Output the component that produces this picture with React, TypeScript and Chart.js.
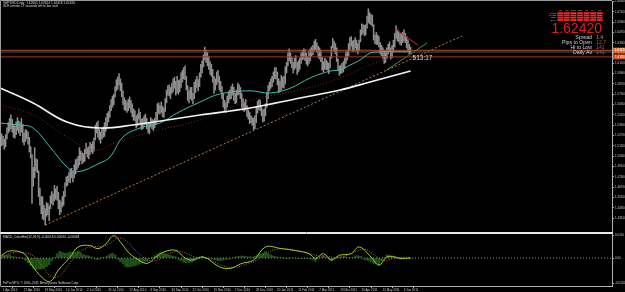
import React, { useEffect, useRef } from 'react';
import { Chart, registerables } from 'chart.js';

Chart.register(...registerables);

const FONT = '"Liberation Sans", Arial, sans-serif';

// ---------------- data ----------------
const dateLabels = [
  '1 Apr 2010', '27 Apr 2010', '19 May 2010', '10 Jun 2010', '2 Jul 2010', '26 Jul 2010',
  '17 Aug 2010', '8 Sep 2010', '30 Sep 2010', '22 Oct 2010', '15 Nov 2010', '7 Dec 2010',
  '29 Dec 2010', '20 Jan 2011', '11 Feb 2011', '7 Mar 2011', '29 Mar 2011', '20 Apr 2011',
  '12 May 2011', '3 Jun 2011',
];
const BARS_PER_LABEL = 16;

const priceLow = [
  1.5150,1.5160,1.5110,1.5140,1.5230,1.5300,1.5320,1.5350,1.5310,1.5250,1.5240,1.5280,1.5330,1.5300,1.5270,1.5310,
  1.5190,1.5160,1.5200,1.5230,1.5170,1.5080,1.5010,1.4480,1.4680,1.4780,1.4860,1.4840,1.4560,1.4460,1.4360,1.4300,
  1.4290,1.4230,1.4330,1.4350,1.4280,1.4420,1.4480,1.4460,1.4510,1.4530,1.4520,1.4420,1.4350,1.4380,1.4440,1.4460,
  1.4560,1.4680,1.4690,1.4730,1.4720,1.4780,1.4730,1.4780,1.4820,1.4870,1.4900,1.4930,1.4980,1.4940,1.4960,1.4970,
  1.5060,1.5020,1.5000,1.5050,1.5080,1.5060,1.5090,1.5220,1.5300,1.5250,1.5220,1.5180,1.5230,1.5250,1.5260,1.5320,
  1.5380,1.5430,1.5480,1.5560,1.5600,1.5630,1.5720,1.5790,1.5810,1.5860,1.5790,1.5720,1.5630,1.5570,1.5560,1.5540,
  1.5560,1.5590,1.5540,1.5490,1.5450,1.5440,1.5360,1.5380,1.5460,1.5390,1.5340,1.5350,1.5390,1.5400,1.5350,1.5300,
  1.5290,1.5370,1.5350,1.5330,1.5360,1.5400,1.5450,1.5530,1.5520,1.5540,1.5490,1.5480,1.5550,1.5650,1.5740,1.5730,
  1.5700,1.5760,1.5780,1.5820,1.5740,1.5770,1.5750,1.5780,1.5830,1.5890,1.5930,1.5920,1.5800,1.5680,1.5650,1.5700,
  1.5680,1.5640,1.5700,1.5770,1.5830,1.5790,1.5840,1.5950,1.6000,1.6070,1.6150,1.6120,1.6080,1.6040,1.5980,1.5960,
  1.5890,1.5760,1.5800,1.5860,1.5890,1.5800,1.5780,1.5700,1.5600,1.5560,1.5540,1.5600,1.5650,1.5690,1.5700,1.5740,
  1.5680,1.5640,1.5650,1.5740,1.5750,1.5700,1.5600,1.5560,1.5550,1.5570,1.5490,1.5460,1.5410,1.5420,1.5390,1.5340,
  1.5350,1.5420,1.5530,1.5570,1.5560,1.5500,1.5430,1.5440,1.5500,1.5600,1.5700,1.5790,1.5820,1.5840,1.5890,1.5930,
  1.5930,1.5860,1.5770,1.5780,1.5800,1.5830,1.5820,1.5870,1.6000,1.6080,1.6140,1.6110,1.6060,1.6000,1.6040,1.6060,
  1.5980,1.6010,1.6040,1.6110,1.6150,1.6160,1.6140,1.6100,1.6080,1.6110,1.6140,1.6190,1.6210,1.6250,1.6270,1.6240,
  1.6180,1.6160,1.6130,1.6030,1.6010,1.6040,1.6040,1.6030,1.5990,1.6060,1.6170,1.6290,1.6250,1.6220,1.6130,1.6030,
  1.5970,1.5990,1.6000,1.6010,1.6050,1.6110,1.6150,1.6200,1.6270,1.6310,1.6250,1.6250,1.6290,1.6250,1.6220,1.6260,
  1.6360,1.6440,1.6460,1.6430,1.6440,1.6520,1.6580,1.6570,1.6560,1.6540,1.6380,1.6340,1.6330,1.6330,1.6300,1.6220,
  1.6200,1.6170,1.6110,1.6120,1.6170,1.6220,1.6250,1.6160,1.6180,1.6240,1.6300,1.6400,1.6370,1.6360,1.6330,1.6320,
  1.6350,1.6370,1.6350,1.6290,1.6260,1.6220,1.6230,
];
const priceHigh = [
  1.5290,1.5260,1.5230,1.5280,1.5360,1.5420,1.5470,1.5510,1.5460,1.5400,1.5380,1.5430,1.5480,1.5440,1.5420,1.5470,
  1.5400,1.5300,1.5340,1.5330,1.5310,1.5250,1.5140,1.5050,1.4900,1.5130,1.5000,1.4990,1.4860,1.4660,1.4560,1.4560,
  1.4460,1.4420,1.4490,1.4480,1.4450,1.4570,1.4620,1.4590,1.4690,1.4650,1.4680,1.4610,1.4520,1.4500,1.4560,1.4620,
  1.4720,1.4790,1.4800,1.4840,1.4880,1.4890,1.4850,1.4930,1.4990,1.5000,1.5030,1.5130,1.5090,1.5070,1.5060,1.5110,
  1.5180,1.5130,1.5140,1.5190,1.5170,1.5200,1.5240,1.5390,1.5420,1.5440,1.5340,1.5310,1.5350,1.5370,1.5420,1.5480,
  1.5530,1.5550,1.5620,1.5690,1.5730,1.5750,1.5840,1.5920,1.5950,1.5990,1.5930,1.5880,1.5790,1.5710,1.5680,1.5660,
  1.5690,1.5720,1.5680,1.5640,1.5580,1.5560,1.5500,1.5520,1.5580,1.5540,1.5460,1.5470,1.5500,1.5520,1.5470,1.5420,
  1.5420,1.5480,1.5460,1.5450,1.5470,1.5540,1.5640,1.5650,1.5620,1.5660,1.5610,1.5590,1.5700,1.5800,1.5850,1.5860,
  1.5830,1.5880,1.5930,1.5950,1.5900,1.5960,1.5910,1.5920,1.6000,1.6030,1.6060,1.6080,1.5960,1.5850,1.5790,1.5830,
  1.5830,1.5760,1.5890,1.5920,1.5960,1.5920,1.6000,1.6100,1.6140,1.6210,1.6300,1.6260,1.6240,1.6190,1.6130,1.6100,
  1.6040,1.5960,1.5930,1.6010,1.6030,1.5960,1.5900,1.5840,1.5760,1.5680,1.5650,1.5730,1.5780,1.5800,1.5840,1.5870,
  1.5830,1.5760,1.5800,1.5880,1.5860,1.5830,1.5760,1.5700,1.5660,1.5690,1.5620,1.5570,1.5540,1.5500,1.5480,1.5470,
  1.5500,1.5600,1.5670,1.5690,1.5680,1.5620,1.5570,1.5580,1.5640,1.5770,1.5850,1.5890,1.5930,1.5960,1.6010,1.6060,
  1.6060,1.6010,1.5930,1.5900,1.5970,1.5950,1.5960,1.6070,1.6120,1.6230,1.6280,1.6230,1.6180,1.6120,1.6170,1.6200,
  1.6120,1.6140,1.6170,1.6230,1.6260,1.6280,1.6270,1.6230,1.6190,1.6250,1.6280,1.6300,1.6320,1.6370,1.6390,1.6350,
  1.6310,1.6290,1.6260,1.6180,1.6130,1.6170,1.6150,1.6130,1.6110,1.6190,1.6310,1.6400,1.6370,1.6340,1.6290,1.6160,
  1.6080,1.6090,1.6110,1.6130,1.6170,1.6240,1.6260,1.6340,1.6410,1.6420,1.6370,1.6380,1.6410,1.6380,1.6340,1.6380,
  1.6500,1.6570,1.6560,1.6550,1.6560,1.6660,1.6745,1.6700,1.6680,1.6670,1.6560,1.6440,1.6470,1.6440,1.6420,1.6350,
  1.6320,1.6290,1.6260,1.6250,1.6290,1.6330,1.6360,1.6290,1.6320,1.6380,1.6460,1.6550,1.6500,1.6480,1.6450,1.6460,
  1.6470,1.6500,1.6460,1.6420,1.6380,1.6330,1.6300,
];

// moving averages (bar position, price)
const sma50Bar = [-1.3, 13.9, 23.8, 36.7, 49.5, 57.1, 74.6, 82.1, 92, 104.9, 120, 133, 150.4, 165.5, 188.3, 203.4, 218.6, 233.8, 249, 256.5, 264.1, 271.7, 279.3, 284.6, 294.4, 310];
const sma50 = [1.5416, 1.5393, 1.5358, 1.5137, 1.4905, 1.4847, 1.4951, 1.5021, 1.5253, 1.5358, 1.5416, 1.5532, 1.5660, 1.5754, 1.5790, 1.5765, 1.5820, 1.5940, 1.6020, 1.6033, 1.6090, 1.6149, 1.6230, 1.6242, 1.6245, 1.6245];
const sma100Bar = [-1.3, 23.8, 49.5, 69.3, 87.4, 112.5, 150.4, 188.3, 226.2, 256.5, 289.1, 310];
const sma100 = [1.5626, 1.5510, 1.5254, 1.5102, 1.5195, 1.5311, 1.5451, 1.5680, 1.5800, 1.5940, 1.6149, 1.6200];
const sma200Bar = [-1.3, 23.8, 49.5, 74.6, 99.6, 125.4, 150.4, 188.3, 226.2, 256.5, 279.3, 310];
const sma200 = [1.5824, 1.5649, 1.5428, 1.5358, 1.5393, 1.5451, 1.5509, 1.5591, 1.5707, 1.5800, 1.5893, 1.6021];

// trend lines
const supportBar = [33, 349];
const supportPrice = [1.4230, 1.6428];
const greenBar = [292, 322.5];
const greenPrice = [1.6033, 1.6347];
const resistBar = [298, 315.6];
const resistPrice = [1.6510, 1.6323];

const currentPrice = 1.6242;
const upperLevel = 1.6262;
const lowerLevel = 1.6185;
const lastBar = 310;

const priceTicks = [1.6830, 1.6710, 1.6590, 1.6470, 1.6350, 1.6230, 1.6110, 1.5990, 1.5870, 1.5750, 1.5630, 1.5510, 1.5390, 1.5270, 1.5150, 1.5030, 1.4910, 1.4790, 1.4670, 1.4550, 1.4430, 1.4310];

// oscillator
const macdBar = [0, 6, 17, 22, 31, 37, 43, 52, 58, 67, 73, 79, 85, 91, 97, 102, 110, 117, 123, 132, 138, 144, 153, 165, 173, 182, 191, 200, 212, 221, 233, 238, 244, 250, 256, 265, 271, 280, 286, 292, 298, 302, 310];
const macdMain = [0.0013, 0.0034, 0.0021, -0.0026, -0.0096, -0.0112, -0.0058, 0.0005, 0.0053, 0.0060, 0.0045, 0.0068, 0.0107, 0.0068, 0.0021, -0.0002, -0.0026, 0.0005, 0.0029, 0.0037, 0.0005, -0.0010, 0.0005, -0.0042, -0.0050, -0.0026, -0.0010, 0.0053, 0.0045, 0.0037, 0.0021, -0.0002, 0.0021, -0.0010, 0.0013, 0.0021, 0.0053, 0.0005, -0.0034, 0.0005, 0.0005, -0.0002, 0.0000];
const signalBar = [0, 8, 18, 25, 32, 38, 44, 50, 56, 63, 70, 76, 82, 88, 94, 100, 106, 113, 120, 127, 134, 141, 148, 155, 162, 170, 177, 185, 193, 201, 208, 216, 224, 232, 240, 247, 253, 260, 268, 275, 282, 289, 295, 302, 310];
const signalVal = [0.0000, 0.0025, 0.0025, 0.0005, -0.0050, -0.0090, -0.0085, -0.0040, 0.0010, 0.0045, 0.0055, 0.0055, 0.0070, 0.0095, 0.0085, 0.0045, 0.0010, -0.0015, -0.0005, 0.0020, 0.0033, 0.0020, 0.0002, 0.0000, -0.0020, -0.0042, -0.0045, -0.0030, -0.0012, 0.0025, 0.0042, 0.0044, 0.0036, 0.0024, 0.0010, 0.0008, 0.0002, 0.0010, 0.0030, 0.0042, 0.0018, -0.0012, -0.0006, 0.0003, 0.0003];
const HIST_STEP = 2;
const histVals = [
  0.0013, 0.0013, 0.0014, 0.0015, 0.0007, 0.0005, 0.0003, 0.0001,
  -0.0002, -0.0012, -0.0023, -0.0037, -0.0050, -0.0054, -0.0054, -0.0054,
  -0.0049, -0.0041, -0.0032, -0.0013, 0.0003, 0.0020, 0.0032, 0.0027,
  0.0023, 0.0024, 0.0028, 0.0028, 0.0027, 0.0033, 0.0025, 0.0016,
  0.0012, 0.0010, 0.0005, -0.0003, -0.0008, -0.0006, 0.0002, 0.0002,
  0.0010, 0.0018, 0.0023, 0.0014, -0.0007, -0.0018, -0.0028, -0.0041,
  -0.0043, -0.0041, -0.0038, -0.0035, -0.0030, -0.0024, -0.0020, -0.0016,
  -0.0004, 0.0004, 0.0010, 0.0019, 0.0026, 0.0025, 0.0021, 0.0016,
  0.0013, 0.0009, 0.0006, -0.0006, -0.0013, -0.0020, -0.0022, -0.0021,
  -0.0021, -0.0013, -0.0005, -0.0001, 0.0004, 0.0001, -0.0001, -0.0003,
  -0.0004, -0.0008, -0.0013, -0.0012, -0.0010, -0.0006, -0.0006, -0.0003,
  0.0003, 0.0006, 0.0008, 0.0010, 0.0008, 0.0006, 0.0006, 0.0005,
  0.0009, 0.0014, 0.0019, 0.0024, 0.0031, 0.0022, 0.0015, 0.0009,
  0.0006, 0.0003, 0.0002, -0.0001, -0.0003, -0.0001, 0.0000, 0.0000,
  -0.0003, -0.0002, -0.0002, -0.0002, -0.0002, -0.0005, -0.0010, -0.0016,
  -0.0004, 0.0004, 0.0012, 0.0002, -0.0006, -0.0013, -0.0004, 0.0000,
  0.0005, 0.0002, 0.0007, 0.0003, 0.0000, 0.0003, 0.0009, 0.0011,
  0.0008, -0.0005, -0.0009, -0.0012, -0.0017, -0.0026, -0.0029, -0.0032,
  -0.0012, 0.0003, 0.0015, 0.0012, 0.0010, 0.0007, 0.0001, -0.0005,
  -0.0004, -0.0003, -0.0002, -0.0002,
];
const oscTicks = [0.0110, 0, -0.0120];

// ---------------- layout constants ----------------
const W = 625;
const MAIN_H = 234;
const OSC_TOP = 233;
const OSC_H = 59;
const AXIS_W = 13;
const X_MIN = -0.5;
const X_MAX = 462.7;
const Y_MAX = 1.68351;
const Y_MIN = 1.41486;
const OSC_MAX = 0.01152;
const OSC_MIN = -0.01344;

const pts = (xs: number[], ys: number[]) => xs.map((x, i) => ({ x, y: ys[i] }));

const fixY = (s: any) => { s.width = AXIS_W; s.paddingTop = 0; s.paddingBottom = 0; };
const fixX = (s: any) => { s.height = 6; s.paddingLeft = 0; s.paddingRight = 0; };

const lineDs = (data: any[], color: string, width: number, extra: any = {}) => ({
  type: 'line',
  data,
  borderColor: color,
  borderWidth: width,
  pointRadius: 0,
  fill: false,
  tension: 0,
  order: 1,
  ...extra,
});

const mainDecor = {
  id: 'mainDecor',
  beforeDraw(chart: any) {
    const c = chart.ctx;
    c.save();
    c.fillStyle = '#000';
    c.fillRect(0, 0, chart.width, chart.height);
    c.restore();
  },
  afterDraw(chart: any) {
    const c = chart.ctx;
    const a = chart.chartArea;
    const xs = chart.scales.x;
    const ys = chart.scales.y;
    c.save();
    c.lineWidth = 1;
    c.strokeStyle = '#9a9a9a';
    c.beginPath();
    c.moveTo(0.5, a.bottom);
    c.lineTo(0.5, 0.5);
    c.lineTo(a.right, 0.5);
    c.stroke();
    c.strokeStyle = '#e8e8e8';
    c.beginPath();
    c.moveTo(0, a.bottom + 0.5);
    c.lineTo(a.right + 1, a.bottom + 0.5);
    c.stroke();

    c.fillStyle = '#d8d8d8';
    c.font = `3.2px ${FONT}`;
    c.textBaseline = 'middle';
    c.textAlign = 'left';
    c.fillText('GBPUSD,Daily  1.62605 1.62624 1.62418 1.62420', 3, 3.3);
    c.fillText('GLE remain 17 seconds left to bar end', 3, 6.4);

    const cols = ['M1', 'M5', 'M15', 'M30', 'H1', 'H4', 'D1'];
    const rows = ['Trend', 'MACD', 'STR', 'EMA'];
    const gx = 557, gw = 46 / cols.length, gy = 12, gh = 2.3;
    c.font = `2.4px ${FONT}`;
    c.fillStyle = '#bdbdbd';
    c.textAlign = 'center';
    cols.forEach((t, i) => c.fillText(t, gx + gw * i + gw / 2, 10));
    c.textAlign = 'right';
    rows.forEach((t, j) => c.fillText(t, gx - 1, gy + gh * j + gh / 2));
    c.fillStyle = '#ff2222';
    cols.forEach((_, i) => rows.forEach((__, j) => {
      c.fillRect(gx + gw * i + 0.4, gy + gh * j + 0.2, gw - 0.8, gh - 0.5);
    }));

    c.fillStyle = '#e3201e';
    c.font = `14px ${FONT}`;
    c.textAlign = 'right';
    c.textBaseline = 'alphabetic';
    c.fillText(currentPrice.toFixed(5), 602, 33);

    const stats = [['Spread', '1.4'], ['Pips to Open', '12.7'], ['Hi to Low', '141'], ['Daily Av', '141']];
    c.font = `5.2px ${FONT}`;
    stats.forEach(([k, v], i) => {
      const yy = 38.5 + i * 5.3;
      c.textAlign = 'right';
      c.fillStyle = '#d0d0d0';
      c.fillText(k, 592, yy);
      c.textAlign = 'left';
      c.fillStyle = i === 0 ? '#a0a0a0' : '#b8553a';
      c.fillText(v, 596, yy);
    });

    const tx = xs.getPixelForValue(lastBar) + 2;
    const ty = ys.getPixelForValue(currentPrice) + 8;
    c.fillStyle = '#dcdcdc';
    c.font = `6.5px ${FONT}`;
    c.textAlign = 'left';
    c.fillText('513:17', tx, ty);

    const boxes: [number, string][] = [[upperLevel, '#e0772c'], [lowerLevel, '#d2492a']];
    c.font = `3px ${FONT}`;
    c.textBaseline = 'middle';
    boxes.forEach(([p, col]) => {
      const yy = ys.getPixelForValue(p);
      c.fillStyle = col;
      c.fillRect(a.right + 1, yy - 2.6, W - a.right, 5.2);
      c.fillStyle = '#ffffff';
      c.textAlign = 'left';
      c.fillText(p.toFixed(5), a.right + 3, yy);
    });
    c.restore();
  },
};

const oscDecor = {
  id: 'oscDecor',
  beforeDraw(chart: any) {
    const c = chart.ctx;
    c.save();
    c.fillStyle = '#000';
    c.fillRect(0, 0, chart.width, chart.height);
    c.restore();
  },
  afterDraw(chart: any) {
    const c = chart.ctx;
    const a = chart.chartArea;
    c.save();
    c.lineWidth = 1;
    c.strokeStyle = '#e8e8e8';
    c.beginPath();
    c.moveTo(0, 0.5);
    c.lineTo(a.right + 1, 0.5);
    c.stroke();
    c.strokeStyle = '#9a9a9a';
    c.beginPath();
    c.moveTo(0.5, 0.5);
    c.lineTo(0.5, a.bottom + 0.5);
    c.stroke();
    c.fillStyle = '#d8d8d8';
    c.font = `3.2px ${FONT}`;
    c.textBaseline = 'middle';
    c.textAlign = 'left';
    c.fillText('MACD_ColorHist(12,26,9) -0.00018 0.00030 -0.00048', 3, 4);
    c.fillText('FxPro MT4, \u00A9 2001-2011 MetaQuotes Software Corp.', 3, a.bottom - 3);
    c.restore();
  },
};

export default function App() {
  const mainRef = useRef<HTMLCanvasElement>(null);
  const oscRef = useRef<HTMLCanvasElement>(null);

  useEffect(() => {
    const tickFont = { family: FONT, size: 3 };
    const barsData = priceLow.map((l, i) => ({ x: i, y: [l, priceHigh[i]] }));

    const main = new Chart(mainRef.current as HTMLCanvasElement, {
      type: 'bar',
      data: {
        datasets: [
          lineDs(pts(sma200Bar, sma200), '#f4f4f4', 1.6, { tension: 0.4 }),
          lineDs(pts(sma50Bar, sma50), '#3fbfae', 1, { tension: 0.4 }),
          lineDs(pts(sma100Bar, sma100), '#7a2c22', 1, { tension: 0.4, borderDash: [1, 2] }),
          lineDs(pts([X_MIN, X_MAX], [upperLevel, upperLevel]), '#b84a32', 1),
          lineDs(pts([X_MIN, X_MAX], [currentPrice, currentPrice]), '#4a5868', 1),
          lineDs(pts([X_MIN, X_MAX], [lowerLevel, lowerLevel]), '#a03526', 1),
          lineDs(pts(supportBar, supportPrice), '#c4783c', 1, { borderDash: [2, 2] }),
          lineDs(pts(greenBar, greenPrice), '#3a9a3a', 1),
          lineDs(pts(resistBar, resistPrice), '#c83030', 1),
          {
            type: 'bar',
            data: barsData,
            backgroundColor: '#8e8e8e',
            borderWidth: 0,
            barThickness: 0.9,
            grouped: false,
            order: 10,
          },
        ],
      } as any,
      options: {
        responsive: false,
        animation: false,
        devicePixelRatio: 1,
        events: [],
        layout: { padding: { left: 1, top: 1, right: 0, bottom: 2 } },
        plugins: { legend: { display: false }, tooltip: { enabled: false } },
        scales: {
          x: { type: 'linear', min: X_MIN, max: X_MAX, offset: false, display: false },
          y: {
            position: 'right',
            min: Y_MIN,
            max: Y_MAX,
            afterBuildTicks: (s: any) => { s.ticks = priceTicks.map((v) => ({ value: v })); },
            afterFit: fixY,
            ticks: {
              color: '#c8c8c8',
              font: tickFont,
              padding: 1,
              autoSkip: false,
              callback: (v: any) => Number(v).toFixed(5),
            },
            grid: { display: true, drawOnChartArea: false, drawTicks: true, tickLength: 2, color: '#b0b0b0' },
            border: { display: true, color: '#b0b0b0' },
          },
        },
      } as any,
      plugins: [mainDecor],
    });

    const osc = new Chart(oscRef.current as HTMLCanvasElement, {
      type: 'bar',
      data: {
        datasets: [
          lineDs(pts(macdBar, macdMain), '#9acd32', 1, { tension: 0.4 }),
          lineDs(pts(signalBar, signalVal), '#c8603c', 1, { tension: 0.4, borderDash: [1, 1.5] }),
          lineDs(pts([X_MIN, X_MAX], [0, 0]), '#8a8a8a', 1, { borderDash: [1, 2], order: 5 }),
          {
            type: 'bar',
            data: histVals.map((v, i) => ({ x: i * HIST_STEP, y: v })),
            backgroundColor: '#1d5418',
            borderWidth: 0,
            barThickness: 2,
            grouped: false,
            order: 10,
          },
        ],
      } as any,
      options: {
        responsive: false,
        animation: false,
        devicePixelRatio: 1,
        events: [],
        layout: { padding: { left: 1, top: 1, right: 0, bottom: 0 } },
        plugins: { legend: { display: false }, tooltip: { enabled: false } },
        scales: {
          x: {
            type: 'linear',
            min: X_MIN,
            max: X_MAX,
            offset: false,
            afterBuildTicks: (s: any) => { s.ticks = dateLabels.map((_, i) => ({ value: i * BARS_PER_LABEL })); },
            afterFit: fixX,
            ticks: {
              color: '#c8c8c8',
              font: tickFont,
              padding: 0,
              align: 'start',
              labelOffset: 1,
              maxRotation: 0,
              minRotation: 0,
              autoSkip: false,
              callback: (v: any) => dateLabels[Math.round(Number(v) / BARS_PER_LABEL)] ?? '',
            },
            grid: { display: true, drawOnChartArea: false, drawTicks: true, tickLength: 2, color: '#b0b0b0' },
            border: { display: true, color: '#b0b0b0' },
          },
          y: {
            position: 'right',
            min: OSC_MIN,
            max: OSC_MAX,
            afterBuildTicks: (s: any) => { s.ticks = oscTicks.map((v) => ({ value: v })); },
            afterFit: fixY,
            ticks: {
              color: '#c8c8c8',
              font: tickFont,
              padding: 1,
              autoSkip: false,
              callback: (v: any) => (Number(v) === 0 ? '0.00' : Number(v).toFixed(4)),
            },
            grid: { display: true, drawOnChartArea: false, drawTicks: true, tickLength: 2, color: '#b0b0b0' },
            border: { display: true, color: '#b0b0b0' },
          },
        },
      } as any,
      plugins: [oscDecor],
    });

    return () => {
      main.destroy();
      osc.destroy();
    };
  }, []);

  return (
    <div style={{ position: 'absolute', left: 0, top: 0, width: W, height: 292, background: '#000', overflow: 'hidden' }}>
      <canvas ref={mainRef} width={W} height={MAIN_H} style={{ position: 'absolute', left: 0, top: 0, width: W, height: MAIN_H }} />
      <canvas ref={oscRef} width={W} height={OSC_H} style={{ position: 'absolute', left: 0, top: OSC_TOP, width: W, height: OSC_H }} />
    </div>
  );
}
